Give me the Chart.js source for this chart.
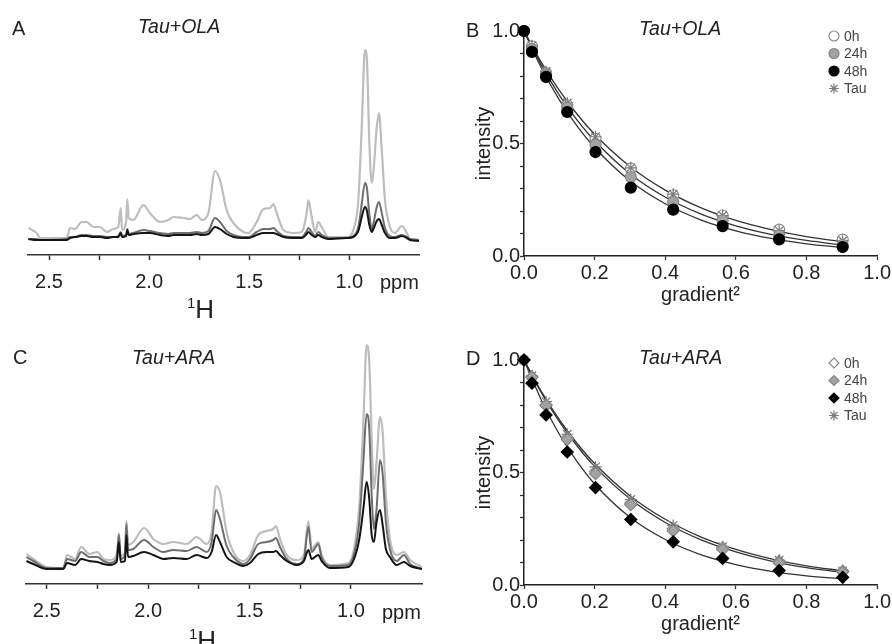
<!DOCTYPE html>
<html>
<head>
<meta charset="utf-8">
<script src="https://cdn.jsdelivr.net/npm/chart.js@4.4.1/dist/chart.umd.min.js"></script>
<style>
  html, body { margin: 0; padding: 0; background: #fff; }
  #fig { position: relative; width: 892px; height: 644px; overflow: hidden;
         font-family: "Liberation Sans", Arial, sans-serif; color: #222; }
  .panel { position: absolute; width: 446px; height: 322px; }
  .txt { position: absolute; font-size: 20px; line-height: 20px; white-space: nowrap; z-index: 2; }
  .it { font-style: italic; font-size: 19.5px; }
  .nuc { font-size: 26px; line-height: 26px; }
  .nuc span { font-size: 15px; vertical-align: 10px; }
</style>
</head>
<body>
<div id="fig">
  <div class="panel" style="left:0;top:0"><canvas id="chartA" width="446" height="322"></canvas></div>
  <div class="panel" style="left:446px;top:0"><canvas id="chartB" width="446" height="322"></canvas></div>
  <div class="panel" style="left:0;top:322px"><canvas id="chartC" width="446" height="322"></canvas></div>
  <div class="panel" style="left:446px;top:322px"><canvas id="chartD" width="446" height="322"></canvas></div>

  <div class="txt" style="left:12px;top:18px">A</div>
  <div class="txt it" style="left:138px;top:16px">Tau+OLA</div>
  <div class="txt" style="left:380px;top:272px">ppm</div>
  <div class="txt nuc" style="left:187px;top:290px"><span>1</span>H</div>

  <div class="txt" style="left:466px;top:20px">B</div>
  <div class="txt it" style="left:639px;top:18px">Tau+OLA</div>

  <div class="txt" style="left:13px;top:347px">C</div>
  <div class="txt it" style="left:132px;top:347px">Tau+ARA</div>
  <div class="txt" style="left:382px;top:602px">ppm</div>
  <div class="txt nuc" style="left:189px;top:621px"><span>1</span>H</div>

  <div class="txt" style="left:466px;top:348px">D</div>
  <div class="txt it" style="left:639px;top:347px">Tau+ARA</div>
</div>

<script>
/* ---------------------------
    DATA - spectra (ppm, a.u.)
------------------------------ */
const ppmA = [2.603, 2.562, 2.545, 2.412, 2.395, 2.370, 2.337, 2.312, 2.279, 2.245, 2.212, 2.179, 2.154, 2.142, 2.135, 2.115, 2.109, 2.102, 2.079, 2.029, 1.996, 1.946, 1.904, 1.879, 1.829, 1.796, 1.762, 1.737, 1.704, 1.671, 1.646, 1.613, 1.579, 1.529, 1.504, 1.463, 1.429, 1.396, 1.379, 1.363, 1.329, 1.280, 1.238, 1.213, 1.205, 1.188, 1.171, 1.155, 1.138, 1.105, 1.013, 0.980, 0.955, 0.938, 0.922, 0.913, 0.900, 0.888, 0.880, 0.863, 0.852, 0.838, 0.822, 0.797, 0.772, 0.738, 0.713, 0.697, 0.650];
const olaA0h = [11, 6, 1, 1, 11, 10, 17, 17, 12, 12, 7, 10, 12, 31, 9, 17, 40, 21, 19, 34, 26, 17, 19, 22, 21, 20, 24, 19, 26, 68, 59, 29, 16, 7, 6, 17, 30, 31, 35, 26, 9, 6, 7, 26, 39, 22, 7, 17, 12, 2, 2, 9, 39, 112, 189, 182, 96, 56, 66, 112, 126, 89, 39, 12, 6, 13, 6, 0, -1];
const olaA24h = [0, 0, -1, 0, 2, 2, 4, 4, 3, 3, 2, 2, 3, 7, 3, 4, 10, 5, 6, 9, 8, 6, 5, 6, 6, 6, 7, 6, 8, 21, 17, 8, 4, 2, 2, 7, 10, 10, 11, 8, 3, 2, 2, 8, 11, 7, 3, 7, 4, 1, 1, 3, 12, 35, 56, 52, 25, 10, 15, 32, 37, 26, 11, 3, 2, 4, 2, 0, -1];
const olaA48h = [0, -1, -1, -1, 1, 2, 3, 3, 2, 2, 1, 2, 2, 6, 2, 3, 9, 4, 5, 6, 6, 4, 3, 4, 4, 4, 5, 4, 5, 12, 10, 5, 2, 1, 1, 4, 6, 6, 6, 5, 2, 1, 1, 5, 7, 4, 2, 4, 2, 0, 1, 2, 8, 22, 32, 29, 14, 7, 10, 18, 20, 14, 6, 1, 1, 3, 1, -1, -2];

const ppmC = [2.600, 2.566, 2.500, 2.418, 2.400, 2.360, 2.330, 2.290, 2.250, 2.220, 2.190, 2.155, 2.144, 2.135, 2.114, 2.107, 2.099, 2.073, 2.020, 1.974, 1.925, 1.876, 1.810, 1.761, 1.711, 1.687, 1.665, 1.646, 1.613, 1.580, 1.531, 1.498, 1.457, 1.416, 1.383, 1.370, 1.350, 1.317, 1.268, 1.232, 1.210, 1.194, 1.161, 1.145, 1.104, 1.013, 0.985, 0.959, 0.939, 0.923, 0.910, 0.898, 0.887, 0.874, 0.857, 0.844, 0.828, 0.808, 0.775, 0.739, 0.709, 0.649];
const araC0h = [14, 9, 1, 0, 13, 9, 21, 14, 16, 9, 8, 13, 35, 12, 16, 47, 23, 26, 40, 29, 24, 26, 24, 31, 24, 36, 82, 76, 36, 16, 7, 13, 33, 37, 39, 42, 29, 13, 8, 13, 47, 19, 26, 13, 3, 5, 19, 63, 146, 223, 206, 129, 79, 106, 151, 136, 73, 29, 13, 16, 8, 1];
const araC24h = [11, 7, 0, 0, 9, 7, 16, 11, 11, 7, 5, 9, 33, 9, 13, 44, 18, 19, 28, 21, 16, 18, 17, 21, 16, 26, 58, 49, 22, 11, 4, 9, 24, 26, 28, 30, 21, 9, 4, 9, 41, 16, 24, 11, 2, 3, 14, 46, 106, 154, 139, 73, 39, 59, 108, 94, 46, 19, 7, 13, 4, -1];
const araC48h = [7, 4, -1, -1, 5, 3, 9, 7, 6, 4, 3, 6, 26, 6, 7, 33, 11, 12, 16, 13, 9, 10, 9, 13, 10, 16, 33, 26, 11, 6, 2, 5, 14, 16, 16, 17, 13, 7, 3, 7, 18, 9, 13, 7, 0, 1, 9, 29, 59, 86, 69, 33, 26, 46, 58, 43, 19, 11, 3, 6, 2, -1];

/* ---------------------------
    DATA - diffusion decays
------------------------------ */
const grad2 = [0, 0.0225, 0.0625, 0.1225, 0.2025, 0.3025, 0.4225, 0.5625, 0.7225, 0.9025];
const seriesLabels = ["0h", "24h", "48h", "Tau"];

const olaB0h = [1.0, 0.932, 0.813, 0.670, 0.521, 0.388, 0.270, 0.180, 0.117, 0.073];
const olaB24h = [1.0, 0.921, 0.807, 0.659, 0.495, 0.351, 0.240, 0.159, 0.092, 0.050];
const olaB48h = [1.0, 0.907, 0.796, 0.640, 0.462, 0.304, 0.206, 0.133, 0.074, 0.040];
const olaBTau = [1.0, 0.935, 0.820, 0.680, 0.530, 0.392, 0.275, 0.180, 0.113, 0.068];

const araD0h = [1.0, 0.925, 0.800, 0.655, 0.505, 0.365, 0.250, 0.165, 0.105, 0.062];
const araD24h = [1.0, 0.923, 0.798, 0.647, 0.495, 0.357, 0.241, 0.158, 0.099, 0.059];
const araD48h = [1.0, 0.897, 0.756, 0.591, 0.433, 0.291, 0.192, 0.118, 0.064, 0.034];
const araDTau = [1.0, 0.930, 0.815, 0.670, 0.525, 0.380, 0.265, 0.170, 0.110, 0.063];

// fitted curves
const fitX = [0, 0.05, 0.1, 0.15, 0.2, 0.3, 0.4, 0.5, 0.6, 0.7, 0.8, 0.9025];
const olaFitTop = [1, 0.858, 0.736, 0.631, 0.541, 0.398, 0.293, 0.215, 0.158, 0.117, 0.086, 0.063];
const olaFitMid = [1, 0.846, 0.715, 0.605, 0.512, 0.366, 0.262, 0.187, 0.134, 0.096, 0.069, 0.049];
const olaFitBot = [1, 0.833, 0.694, 0.578, 0.482, 0.334, 0.232, 0.161, 0.112, 0.078, 0.054, 0.037];
const araFitTop = [1, 0.857, 0.735, 0.630, 0.540, 0.397, 0.292, 0.214, 0.158, 0.116, 0.085, 0.063];
const araFitMid = [1, 0.852, 0.726, 0.619, 0.527, 0.383, 0.278, 0.202, 0.147, 0.106, 0.077, 0.056];
const araFitBot = [1, 0.819, 0.670, 0.549, 0.449, 0.301, 0.202, 0.135, 0.091, 0.061, 0.041, 0.027];

/* ---------------------------
    COMMON
------------------------------ */
const FONT = '"Liberation Sans", Arial, sans-serif';
Chart.defaults.font.family = FONT;
Chart.defaults.color = "#222";

const pairs = (xs, ys) => xs.map((x, i) => ({ x: x, y: ys[i] }));
const isHalf = v => Math.abs(v * 2 - Math.round(v * 2)) < 1e-6;

/* ---------------------------
    SPECTRA (A, C)
------------------------------ */
function spectrumChart(id, ppm, traces, xMin, xMax, yMax, pad, axisH) {
    const colors = ["#bdbdbd", "#6e6e6e", "#141414"];
    const widths = [2.2, 2, 2];
    return new Chart(document.getElementById(id), {
        type: "line",
        data: {
            datasets: traces.map((t, i) => ({
                data: pairs(ppm, t),
                borderColor: colors[i],
                borderWidth: widths[i],
                pointRadius: 0,
                cubicInterpolationMode: "monotone",
                order: 2 - i
            }))
        },
        options: {
            responsive: false,
            animation: false,
            layout: { padding: pad },
            plugins: { legend: { display: false }, tooltip: { enabled: false } },
            scales: {
                x: {
                    type: "linear",
                    reverse: true,
                    min: xMin,
                    max: xMax,
                    afterFit: s => { s.height = axisH; },
                    border: { display: true, color: "#333", width: 1.5 },
                    grid: {
                        drawOnChartArea: false,
                        tickLength: 5,
                        tickWidth: 1.5,
                        tickColor: c => (c.tick && c.tick.value < 0.9) ? "rgba(0,0,0,0)" : "#333"
                    },
                    ticks: {
                        stepSize: 0.25,
                        includeBounds: false,
                        autoSkip: false,
                        maxRotation: 0,
                        padding: 10,
                        font: { size: 20 },
                        callback: v => isHalf(v) ? v.toFixed(1) : ""
                    }
                },
                y: { display: false, min: -16, max: yMax }
            }
        }
    });
}

spectrumChart("chartA", ppmA, [olaA0h, olaA24h, olaA48h], 0.652, 2.605, 194,
    { left: 28, right: 27, top: 45, bottom: 0 }, 67);
spectrumChart("chartC", ppmC, [araC0h, araC24h, araC48h], 0.650, 2.602, 228,
    { left: 26, right: 24, top: 18, bottom: 0 }, 60);

/* ---------------------------
    SMALL SYMBOL LEGEND
------------------------------ */
const symbolLegend = {
    id: "symbolLegend",
    afterDraw(chart, args, opts) {
        const ctx = chart.ctx;
        ctx.save();
        opts.labels.forEach((lab, i) => {
            const ds = chart.data.datasets.find(d => d.label === lab);
            const y = opts.y + i * opts.rowGap;
            ctx.fillStyle = ds.backgroundColor;
            ctx.strokeStyle = ds.borderColor;
            ctx.lineWidth = ds.borderWidth;
            Chart.helpers.drawPoint(ctx, {
                pointStyle: ds.pointStyle, radius: opts.radius, rotation: 0, borderWidth: ds.borderWidth
            }, opts.x, y);
            ctx.fillStyle = "#444";
            ctx.font = "14px " + FONT;
            ctx.textBaseline = "middle";
            ctx.textAlign = "left";
            ctx.fillText(lab, opts.x + 10, y + 1);
        });
        ctx.restore();
    }
};

/* ---------------------------
    DECAYS (B, D)
------------------------------ */
function decayChart(id, shape, sets, fits, pad, legendY) {
    const looks = [
        { bg: "#ffffff", bd: "#8a8a8a", order: 3 },   // 0h
        { bg: "#a3a3a3", bd: "#858585", order: 1 },   // 24h
        { bg: "#000000", bd: "#000000", order: 0 },   // 48h
        { bg: "#7a7a7a", bd: "#7a7a7a", order: 2 }    // Tau
    ];
    const markers = sets.map((ys, i) => ({
        label: seriesLabels[i],
        data: pairs(grad2, ys),
        showLine: false,
        clip: false,
        pointStyle: i === 3 ? "star" : shape,
        pointRadius: i === 3 ? 6 : (shape === "circle" ? 5.5 : 6),
        backgroundColor: looks[i].bg,
        borderColor: looks[i].bd,
        borderWidth: 1.2,
        order: looks[i].order
    }));
    const curves = fits.map(ys => ({
        data: pairs(fitX, ys),
        showLine: true,
        pointRadius: 0,
        borderColor: "#333",
        borderWidth: 1.3,
        cubicInterpolationMode: "monotone",
        order: 5
    }));

    return new Chart(document.getElementById(id), {
        type: "scatter",
        data: { datasets: markers.concat(curves) },
        plugins: [symbolLegend],
        options: {
            responsive: false,
            animation: false,
            layout: { padding: pad },
            plugins: {
                legend: { display: false },
                tooltip: { enabled: false },
                symbolLegend: { labels: seriesLabels, x: 388, y: legendY, rowGap: 17.5, radius: 5 }
            },
            scales: {
                x: {
                    min: 0, max: 1,
                    afterFit: s => { s.height = 51; },
                    border: { display: true, color: "#222", width: 1.5 },
                    grid: { drawOnChartArea: false, tickLength: 4, tickWidth: 1.3, tickColor: "#333" },
                    ticks: { stepSize: 0.2, padding: 1, maxRotation: 0, font: { size: 20 }, callback: v => v.toFixed(1) },
                    title: { display: true, text: "gradient²", font: { size: 20 }, padding: 0 }
                },
                y: {
                    min: 0, max: 1,
                    afterFit: s => { s.width = 52; },
                    border: { display: true, color: "#222", width: 1.5 },
                    grid: { drawOnChartArea: false, tickLength: 4, tickWidth: 1.3, tickColor: "#333" },
                    ticks: { stepSize: 0.1, padding: 0, autoSkip: false, font: { size: 20 },
                             callback: v => isHalf(v) ? v.toFixed(1) : "" },
                    title: { display: true, text: "intensity", font: { size: 20 }, padding: 0 }
                }
            }
        }
    });
}

decayChart("chartB", "circle", [olaB0h, olaB24h, olaB48h, olaBTau],
    [olaFitTop, olaFitMid, olaFitBot], { left: 26, right: 13, top: 31, bottom: 15 }, 36);
decayChart("chartD", "rectRot", [araD0h, araD24h, araD48h, araDTau],
    [araFitTop, araFitMid, araFitBot], { left: 26, right: 13, top: 38, bottom: 8 }, 41);
</script>
</body>
</html>
